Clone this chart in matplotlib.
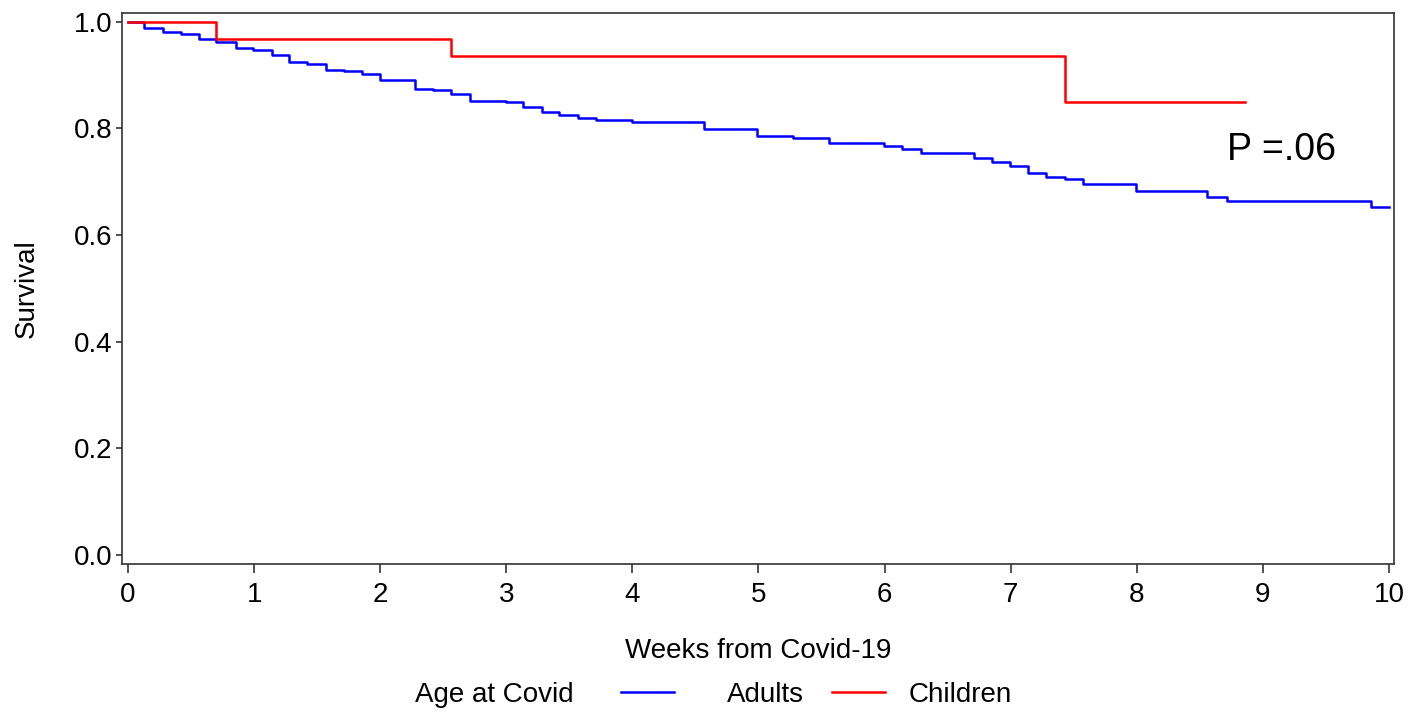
import numpy as np
import matplotlib.pyplot as plt

plt.rcParams['font.family'] = ['Liberation Sans', 'DejaVu Sans']

# Kaplan-Meier step curves (weeks, survival)
adults_t = [0, 0.13, 0.28, 0.42, 0.565, 0.70, 0.854, 0.994, 1.142, 1.28, 1.42,
            1.568, 1.713, 1.853, 1.998, 2.274, 2.42, 2.56, 2.712, 2.995, 3.135,
            3.28, 3.42, 3.569, 3.709, 3.994, 4.565, 4.99, 5.276, 5.562, 5.998,
            6.135, 6.286, 6.706, 6.854, 6.994, 7.14, 7.28, 7.43, 7.571, 7.994,
            8.56, 8.713, 9.857]
adults_s = [1.0, 0.988, 0.981, 0.977, 0.968, 0.961, 0.951, 0.946, 0.938, 0.924, 0.920,
            0.910, 0.908, 0.902, 0.890, 0.874, 0.871, 0.864, 0.852, 0.849, 0.839,
            0.831, 0.825, 0.819, 0.816, 0.812, 0.799, 0.786, 0.782, 0.772, 0.766,
            0.761, 0.754, 0.744, 0.736, 0.729, 0.716, 0.709, 0.704, 0.696, 0.682,
            0.671, 0.664, 0.652]
adults_end = 10.0

children_t = [0, 0.70, 2.56, 7.43]
children_s = [1.0, 0.968, 0.935, 0.850]
children_end = 8.86

x_ticks = list(range(0, 11))
y_ticks = [0.0, 0.2, 0.4, 0.6, 0.8, 1.0]

fs = 20

fig = plt.figure(figsize=(14.08, 7.12), dpi=100)
ax = fig.add_axes([0.087, 0.2075, 0.903, 0.7738])

ax.step(adults_t + [adults_end], adults_s + [adults_s[-1]], where='post',
        color='#0000ff', lw=1.8, label='Adults')
ax.step(children_t + [children_end], children_s + [children_s[-1]], where='post',
        color='#ff0000', lw=1.8, label='Children')

ax.set_xlim(-0.044, 10.04)
ax.set_ylim(-0.0175, 1.0155)
ax.set_xticks(x_ticks)
ax.set_yticks(y_ticks)
ax.set_yticklabels([f'{v:.1f}' for v in y_ticks])
ax.tick_params(axis='x', labelsize=fs, length=6.5, width=1.2, color='#333333', pad=6)
ax.tick_params(axis='y', labelsize=fs, length=4.5, width=1.2, color='#333333', pad=3)
for s in ax.spines.values():
    s.set_color('#333333')
    s.set_linewidth(1.2)

ax.set_xlabel('Weeks from Covid-19', fontsize=fs, labelpad=22)
ax.set_ylabel('Survival', fontsize=fs, labelpad=24)

ax.text(8.72, 0.74, 'P =.06', fontsize=27, va='baseline', ha='left')

# legend row: title text, then one entry per group
leg_y = 1 - 695 / 712
fig.text(415 / 1408, leg_y, 'Age at Covid', fontsize=fs, va='center', ha='left')
handles, labels = ax.get_legend_handles_labels()
leg1 = fig.legend([handles[0]], [labels[0]], loc='center left',
                  bbox_to_anchor=(621 / 1408, leg_y), frameon=False, fontsize=fs,
                  handlelength=1.9, handletextpad=1.9, borderaxespad=0, borderpad=0)
fig.legend([handles[1]], [labels[1]], loc='center left',
           bbox_to_anchor=(832 / 1408, leg_y), frameon=False, fontsize=fs,
           handlelength=1.9, handletextpad=0.85, borderaxespad=0, borderpad=0)

fig.savefig('out.png', dpi=100, facecolor='white')
